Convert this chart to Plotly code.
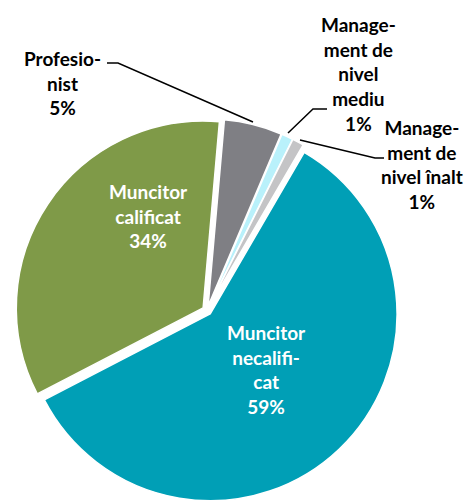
import plotly.graph_objects as go

labels = ["Profesio-<br>nist", "Manage-<br>ment de<br>nivel<br>mediu", "Manage-<br>ment de<br>nivel înalt",
          "Muncitor<br>necalifi-<br>cat", "Muncitor<br>calificat"]
values = [5, 1, 1, 59, 34]
colors = ["#7F7F84", "#B9F1FB", "#C4C4C6", "#009FB6", "#7F9A48"]

# the page body adds an 8px margin: figure is drawn at (8, 8)
OFF = 8
W, H = 473 - OFF, 502 - OFF
FONT = "Lato"

def px(x, y):
    """screen pixel -> paper coords"""
    return (x - OFF) / W, 1 - (y - OFF) / H

cx, cy, half = 207, 310.5, 191.5
x0, _ = px(cx - half, 0)
x1, _ = px(cx + half, 0)
_, y1 = px(0, cy - half)
_, y0 = px(0, cy + half)

fig = go.Figure(go.Pie(
    labels=labels, values=values, sort=False, direction="clockwise", rotation=5,
    marker=dict(colors=colors, line=dict(color="white", width=1.5)),
    pull=[0.025] * len(values), textinfo="none", hoverinfo="label+percent",
    domain=dict(x=[x0, x1], y=[max(0, y0), y1]),
    showlegend=False,
))

total = sum(values)
def lab(i):
    return f"<b>{labels[i]}<br>{round(values[i] * 100 / total)}%</b>"

# label positions (screen pixel centres)
label_pos = [(62, 83, "black"), (358, 73.5, "black"), (422, 164.5, "black"),
             (266, 369, "white"), (148, 216, "white")]
for i, (x, y, c) in enumerate(label_pos):
    ax, ay = px(x, y)
    fig.add_annotation(x=ax, y=ay, xref="paper", yref="paper", text=lab(i), showarrow=False,
                       font=dict(family=FONT, size=19, color=c), align="center",
                       xanchor="center", yanchor="middle")

leaders = [
    [(107, 63), (118, 63), (253, 122)],
    [(327, 109), (313, 109), (288, 133)],
    [(300, 140), (375, 158), (384, 158)],
]
for pts in leaders:
    path = "M " + " L ".join("{},{}".format(*px(x, y)) for x, y in pts)
    fig.add_shape(type="path", path=path, xref="paper", yref="paper",
                  line=dict(color="black", width=1.5))

fig.update_layout(width=W, height=H, margin=dict(l=0, r=0, t=0, b=0),
                  paper_bgcolor="white", plot_bgcolor="white")
fig.write_html("out.html")
